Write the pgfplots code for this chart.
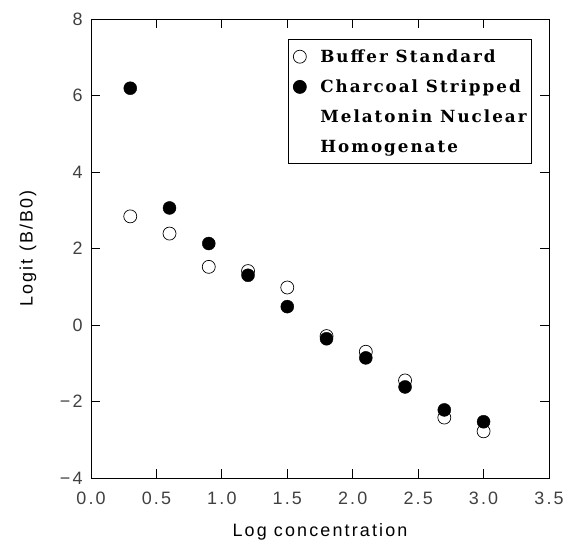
\documentclass[border=0pt]{standalone}
\usepackage{fontspec}
\setmainfont{Liberation Sans}[LetterSpace=12]
\newfontfamily\legfont{DejaVu Serif}[LetterSpace=12]
\usepackage{pgfplots}
\pgfplotsset{compat=1.18}

\pgfplotstableread{
x    buffer  charcoal
0.3   2.84    6.19
0.6   2.39    3.06
0.9   1.52    2.13
1.2   1.41    1.30
1.5   0.98    0.48
1.8  -0.29   -0.36
2.1  -0.70   -0.86
2.4  -1.45   -1.62
2.7  -2.42   -2.22
3.0  -2.78   -2.53
}\datatable

\begin{document}
\begin{tikzpicture}
\begin{axis}[
  scale only axis,
  width=458bp, height=459bp,
  xmin=0, xmax=3.5, ymin=-4, ymax=8,
  xtick={0,0.5,...,3.5}, ytick={-4,-2,...,8},
  yticklabels={−4,−2,0,2,4,6,8},
  xticklabel style={/pgf/number format/fixed,/pgf/number format/fixed zerofill,/pgf/number format/precision=1,
    anchor=center, yshift=-20bp},
  yticklabel style={anchor=east, xshift=-5bp},
  /pgf/number format/assume math mode=true,
  tick align=inside, tick style={black, line width=0.8pt}, major tick length=9bp,
  axis line style={line width=0.8pt},
  ticklabel style={font=\fontsize{18}{20}\selectfont, text=black!75},
  xlabel={Log concentration}, ylabel={Logit (B/B0)},
  label style={font=\fontsize{18}{20}\selectfont},
  xlabel style={at={(0.5,0)}, anchor=center, yshift=-54bp},
  ylabel style={at={(0,0.5)}, anchor=center, yshift=63bp},
  legend style={at={(0.43,0.956)}, anchor=north west, draw=black, line width=0.8pt,
    font=\legfont\bfseries\fontsize{16.8}{19}\selectfont, cells={anchor=west},
    row sep=12bp, inner xsep=3bp, inner ysep=8bp},
  legend cell align=left,
]
\addplot[only marks, mark=*, mark size=6.5bp, mark options={draw=black, fill=white, line width=0.7pt}]
  table[x=x, y=buffer]{\datatable};
\addlegendentry{\hspace{12bp}Buffer Standard}
\addplot[only marks, mark=*, mark size=6.5bp, mark options={draw=black, fill=black}]
  table[x=x, y=charcoal]{\datatable};
\addlegendentry{\hspace{12bp}Charcoal Stripped}
\addlegendimage{empty legend}
\addlegendentry{\hspace{12bp}Melatonin Nuclear\hspace{6bp}}
\addlegendimage{empty legend}
\addlegendentry{\hspace{12bp}Homogenate}
\end{axis}
\pgfresetboundingbox
\path ([xshift=-91bp,yshift=-66bp]current axis.south west) rectangle ([xshift=20bp,yshift=19bp]current axis.north east);
\end{tikzpicture}
\end{document}
